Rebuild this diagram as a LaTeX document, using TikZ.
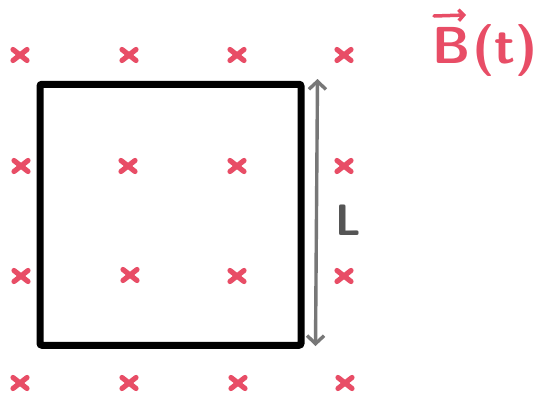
\documentclass[tikz,border=0pt]{standalone}
\usetikzlibrary{arrows.meta}
\definecolor{xred}{HTML}{E84D66}
\definecolor{agray}{HTML}{777777}
\definecolor{lgray}{HTML}{555555}
\tikzset{
  crossmark/.style={draw=xred, line width=5.2pt, line cap=round},
  loopbox/.style={draw=black, line width=7pt, rounded corners=2pt, minimum width=261pt, minimum height=261pt, inner sep=0pt},
  dimarrow/.style={draw=agray, line width=3.4pt, {Straight Barb[length=8pt,width=17pt,line width=3.4pt]}-{Straight Barb[length=8pt,width=17pt,line width=3.4pt]}},
}
\begin{document}
\begin{tikzpicture}[x=1pt,y=-1pt]
\useasboundingbox (0,0) rectangle (547,394);
\fill[white] (0,0) rectangle (547,394);
% crosses
\foreach \cx/\cy in {20/55,129/55,237/55,344/55,
                     21/166,128/166,237/166,344/166,
                     21/276,130/275,237/276,344/276,
                     20/383,129/383,238/383,345/383}{
  \draw[crossmark] (\cx-7,\cy-5.5) -- (\cx+7,\cy+5.5);
  \draw[crossmark] (\cx-7,\cy+5.5) -- (\cx+7,\cy-5.5);
}
% square loop
\node[loopbox] (loop) at (170.5,214.75) {};
% dimension arrow
\coordinate (atop) at (317.5,79);
\coordinate (abot) at (315.5,346);
\draw[dimarrow] (atop) -- (abot);
\node[text=lgray, font=\sffamily\bfseries\fontsize{44}{44}\selectfont, inner sep=0pt] (lab) at (348,220) {L};
% B(t)
\node[text=xred, font=\sffamily\bfseries\fontsize{52}{52}\selectfont, inner sep=0pt, anchor=base west] (bt) at (432,63) {B\kern2pt(t)};
\coordinate (vs) at (434,16);
\coordinate (ve) at (466,15);
\draw[xred, line width=3.5pt, line cap=round, -{Straight Barb[length=5pt,width=11pt,line width=3.5pt]}] (vs) -- (ve);
\end{tikzpicture}
\end{document}
